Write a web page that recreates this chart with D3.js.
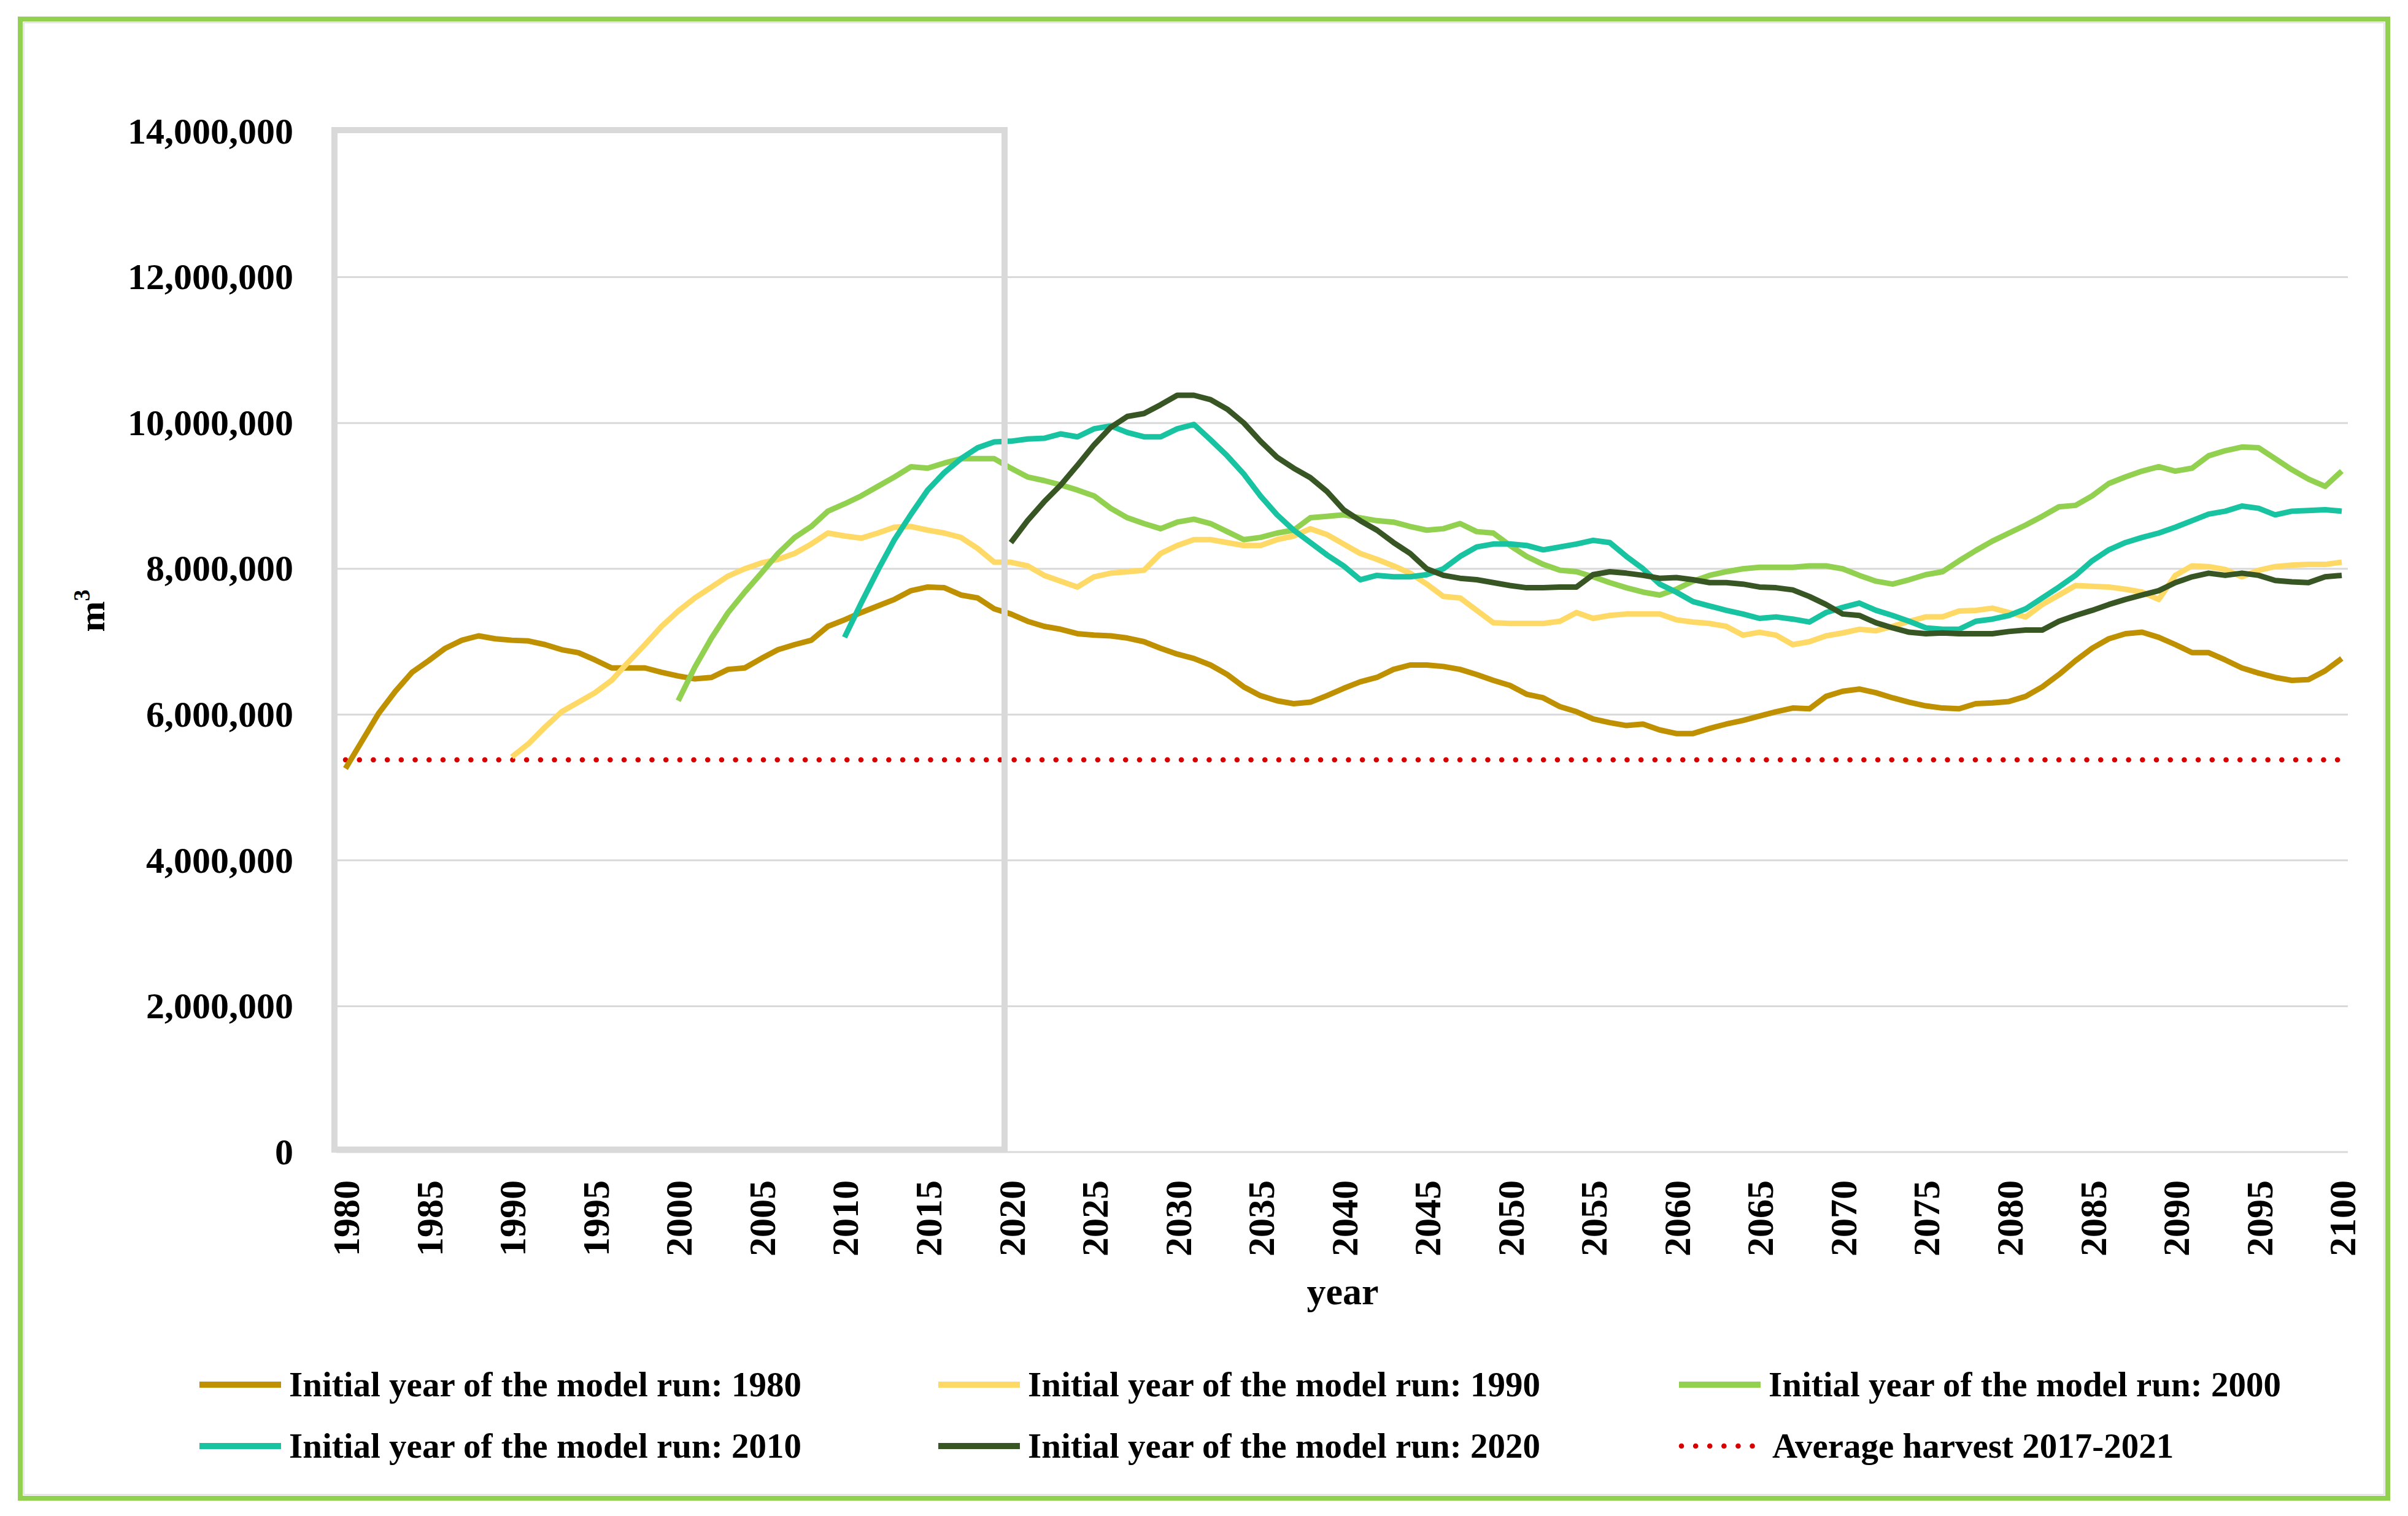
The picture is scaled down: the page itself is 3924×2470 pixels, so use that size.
<!DOCTYPE html>
<html>
<head>
<meta charset="utf-8">
<script src="https://cdn.jsdelivr.net/npm/d3@7"></script>
<style>
    body { margin: 0; background: #fff; }
    svg text { font-family: "Liberation Serif", "DejaVu Serif", serif; font-weight: bold; fill: #000; }
</style>
</head>
<body>
<svg id="chart" width="3924" height="2470"></svg>
<script>
// values in millions of m3, one per year starting at the run's initial year
var run1980 = [
    5.26, 5.64, 6.02, 6.32, 6.58, 6.74, 6.91, 7.02, 7.08, 7.04,
    7.02, 7.01, 6.96, 6.89, 6.85, 6.75, 6.64, 6.64, 6.64, 6.58,
    6.53, 6.49, 6.51, 6.62, 6.64, 6.77, 6.89, 6.96, 7.02, 7.21,
    7.30, 7.40, 7.49, 7.58, 7.70, 7.75, 7.74, 7.64, 7.60, 7.45,
    7.38, 7.28, 7.21, 7.17, 7.11, 7.09, 7.08, 7.05, 7.00, 6.91,
    6.83, 6.77, 6.68, 6.55, 6.38, 6.26, 6.19, 6.15, 6.17, 6.26,
    6.36, 6.45, 6.51, 6.62, 6.68, 6.68, 6.66, 6.62, 6.55, 6.47,
    6.40, 6.28, 6.23, 6.11, 6.04, 5.94, 5.89, 5.85, 5.87, 5.79,
    5.74, 5.74, 5.81, 5.87, 5.92, 5.98, 6.04, 6.09, 6.08, 6.25,
    6.32, 6.35, 6.30, 6.23, 6.17, 6.12, 6.09, 6.08, 6.15, 6.16,
    6.18, 6.25, 6.38, 6.55, 6.74, 6.91, 7.04, 7.11, 7.13, 7.06,
    6.96, 6.85, 6.85, 6.75, 6.64, 6.57, 6.51, 6.47, 6.48, 6.60,
    6.77
];
var run1990 = [
    5.42, 5.60, 5.83, 6.04, 6.17, 6.30, 6.47, 6.72, 6.96, 7.21,
    7.42, 7.60, 7.75, 7.90, 8.00, 8.08, 8.13, 8.21, 8.34, 8.49,
    8.45, 8.42, 8.49, 8.57, 8.58, 8.53, 8.49, 8.43, 8.28, 8.09,
    8.09, 8.04, 7.91, 7.83, 7.75, 7.89, 7.94, 7.96, 7.98, 8.21,
    8.32, 8.40, 8.40, 8.36, 8.32, 8.32, 8.40, 8.45, 8.55, 8.47,
    8.34, 8.21, 8.13, 8.04, 7.94, 7.79, 7.62, 7.60, 7.43, 7.26,
    7.25, 7.25, 7.25, 7.28, 7.40, 7.32, 7.36, 7.38, 7.38, 7.38,
    7.30, 7.27, 7.25, 7.21, 7.09, 7.13, 7.09, 6.96, 7.00, 7.08,
    7.12, 7.17, 7.15, 7.21, 7.28, 7.34, 7.34, 7.42, 7.43, 7.46,
    7.40, 7.34, 7.51, 7.64, 7.77, 7.76, 7.75, 7.72, 7.68, 7.58,
    7.91, 8.04, 8.03, 7.99, 7.89, 7.98, 8.03, 8.05, 8.06, 8.06,
    8.09
];
var run2000 = [
    6.19, 6.65, 7.05, 7.40, 7.68, 7.94, 8.21, 8.43, 8.58, 8.79,
    8.89, 9.00, 9.13, 9.26, 9.40, 9.38, 9.45, 9.51, 9.51, 9.51,
    9.38, 9.26, 9.21, 9.15, 9.08, 9.00, 8.83, 8.70, 8.62, 8.55,
    8.64, 8.68, 8.62, 8.51, 8.40, 8.43, 8.49, 8.53, 8.70, 8.72,
    8.74, 8.70, 8.66, 8.64, 8.58, 8.53, 8.55, 8.62, 8.51, 8.49,
    8.32, 8.17, 8.06, 7.98, 7.96, 7.89, 7.81, 7.74, 7.68, 7.64,
    7.72, 7.83, 7.91, 7.96, 8.00, 8.02, 8.02, 8.02, 8.04, 8.04,
    8.00, 7.91, 7.83, 7.79, 7.85, 7.92, 7.96, 8.11, 8.25, 8.38,
    8.49, 8.60, 8.72, 8.85, 8.87, 9.00, 9.17, 9.26, 9.34, 9.40,
    9.34, 9.38, 9.55, 9.62, 9.67, 9.66, 9.51, 9.36, 9.23, 9.13,
    9.34
];
var run2010 = [
    7.06, 7.53, 7.98, 8.40, 8.75, 9.08, 9.32, 9.51, 9.66, 9.74,
    9.75, 9.78, 9.79, 9.85, 9.81, 9.92, 9.96, 9.87, 9.81, 9.81,
    9.92, 9.98, 9.77, 9.55, 9.30, 9.00, 8.74, 8.53, 8.36, 8.19,
    8.04, 7.85, 7.91, 7.89, 7.89, 7.92, 8.00, 8.17, 8.30, 8.34,
    8.34, 8.32, 8.26, 8.30, 8.34, 8.39, 8.36, 8.17, 8.00, 7.79,
    7.68, 7.55, 7.49, 7.43, 7.38, 7.32, 7.34, 7.31, 7.27, 7.40,
    7.47, 7.53, 7.43, 7.36, 7.28, 7.19, 7.17, 7.17, 7.28, 7.31,
    7.36, 7.45, 7.60, 7.75, 7.91, 8.11, 8.26, 8.36, 8.43, 8.49,
    8.57, 8.66, 8.75, 8.79, 8.86, 8.83, 8.74, 8.79, 8.80, 8.81,
    8.79
];
var run2020 = [
    8.36, 8.66, 8.92, 9.15, 9.42, 9.70, 9.94, 10.09, 10.13, 10.25,
    10.38, 10.38, 10.32, 10.19, 10.00, 9.75, 9.53, 9.38, 9.25, 9.06,
    8.81, 8.66, 8.53, 8.36, 8.21, 8.00, 7.91, 7.87, 7.85, 7.81,
    7.77, 7.74, 7.74, 7.75, 7.75, 7.92, 7.96, 7.94, 7.91, 7.87,
    7.88, 7.85, 7.81, 7.81, 7.79, 7.75, 7.74, 7.71, 7.62, 7.51,
    7.38, 7.36, 7.26, 7.19, 7.13, 7.11, 7.12, 7.11, 7.11, 7.11,
    7.14, 7.16, 7.16, 7.28, 7.36, 7.43, 7.51, 7.58, 7.64, 7.70,
    7.81, 7.89, 7.94, 7.91, 7.94, 7.91, 7.84, 7.82, 7.81, 7.89,
    7.91
];
var averageHarvest = 5.38; // 2017-2021, millions of m3

var startYears = [1980, 1990, 2000, 2010, 2020];
var seriesValues = [run1980, run1990, run2000, run2010, run2020];
var seriesNames = [
    "Initial year of the model run: 1980",
    "Initial year of the model run: 1990",
    "Initial year of the model run: 2000",
    "Initial year of the model run: 2010",
    "Initial year of the model run: 2020"
];
var harvestName = "Average harvest 2017-2021";
var yearTicks = d3.range(1980, 2101, 5);
var valueTicks = d3.range(0, 15, 2);

var colors = ['#bf9000', '#ffd966', '#92d050', '#17c3a0', '#375623'],
    harvestColor = '#d90000',
    gridColor = '#d9d9d9';

var svg = d3.select('#chart');

// outer frame
svg.append('rect')
    .attr('x', 33).attr('y', 31)
    .attr('width', 3858).attr('height', 2410)
    .attr('fill', 'none')
    .attr('stroke', '#92d050')
    .attr('stroke-width', 8);
svg.append('rect')
    .attr('x', 39).attr('y', 37)
    .attr('width', 3846).attr('height', 2398)
    .attr('fill', 'none')
    .attr('stroke', '#e3e3e3')
    .attr('stroke-width', 2);

var x = d3.scaleLinear().domain([1980, 2100]).range([563, 3816]),
    y = d3.scaleLinear().domain([0, 14]).range([1877, 214]),
    plotLeft = 548,
    plotRight = 3826;

// gridlines
svg.append('g')
    .selectAll('line')
    .data(valueTicks.filter(function(v) { return v < 14; }))
    .enter().append('line')
    .attr('x1', plotLeft)
    .attr('x2', plotRight)
    .attr('y1', function(d) { return y(d); })
    .attr('y2', function(d) { return y(d); })
    .attr('stroke', gridColor)
    .attr('stroke-width', 3);

// y axis labels
var yAxis = svg.append('g')
    .attr('transform', 'translate(' + plotLeft + ',0)')
    .call(d3.axisLeft(y)
        .tickValues(valueTicks)
        .tickSize(0)
        .tickPadding(70)
        .tickFormat(function(d) { return d3.format(',')(d * 1e6); }));
yAxis.select('.domain').remove();
yAxis.selectAll('text')
    .attr('font-size', 60)
    .style('font-family', '"Liberation Serif", serif');

// x axis labels, rotated
var xAxis = svg.append('g')
    .attr('transform', 'translate(0,' + y(0) + ')')
    .call(d3.axisBottom(x)
        .tickValues(yearTicks)
        .tickSize(0)
        .tickFormat(d3.format('d')));
xAxis.select('.domain').remove();
xAxis.selectAll('text')
    .attr('transform', 'rotate(-90)')
    .attr('x', -46)
    .attr('y', 0)
    .attr('dy', '0.35em')
    .attr('text-anchor', 'end')
    .attr('font-size', 62)
    .style('font-family', '"Liberation Serif", serif');

// axis titles
svg.append('text')
    .attr('x', 2188)
    .attr('y', 2125)
    .attr('text-anchor', 'middle')
    .attr('font-size', 62)
    .text('year');

var yTitle = svg.append('text')
    .attr('transform', 'translate(170,995) rotate(-90)')
    .attr('text-anchor', 'middle')
    .attr('font-size', 60);
yTitle.append('tspan').text('m');
yTitle.append('tspan')
    .attr('font-size', 38)
    .attr('dy', -24)
    .text('3');

// average harvest
svg.append('line')
    .attr('x1', x(1980))
    .attr('x2', x(2100))
    .attr('y1', y(averageHarvest))
    .attr('y2', y(averageHarvest))
    .attr('stroke', harvestColor)
    .attr('stroke-width', 8.5)
    .attr('stroke-linecap', 'round')
    .attr('stroke-dasharray', '0.1 22.6');

// model runs
var line = d3.line()
    .x(function(d) { return x(d[0]); })
    .y(function(d) { return y(d[1]); });

svg.append('g')
    .selectAll('path')
    .data(seriesValues.map(function(vals, i) {
        return vals.map(function(v, j) { return [startYears[i] + j, v]; });
    }))
    .enter().append('path')
    .attr('d', line)
    .attr('fill', 'none')
    .attr('stroke', function(d, i) { return colors[i]; })
    .attr('stroke-width', 9)
    .attr('stroke-linejoin', 'round');

// highlight box 1980-2020
svg.append('rect')
    .attr('x', 545)
    .attr('y', 212)
    .attr('width', 1637 - 545)
    .attr('height', 1873 - 212)
    .attr('fill', 'none')
    .attr('stroke', gridColor)
    .attr('stroke-width', 10);

// legend
var legendItems = seriesNames.map(function(name, i) {
    return { name: name, color: colors[i], dotted: false };
});
legendItems.push({ name: harvestName, color: harvestColor, dotted: true });

var legendCols = [325, 1529, 2736],
    legendRows = [2256, 2356];

var legend = svg.append('g')
    .selectAll('g')
    .data(legendItems)
    .enter().append('g')
    .attr('transform', function(d, i) {
        return 'translate(' + legendCols[i % 3] + ',' + legendRows[Math.floor(i / 3)] + ')';
    });

legend.append('line')
    .attr('x1', function(d) { return d.dotted ? 4 : 0; })
    .attr('x2', function(d) { return d.dotted ? 124 : 133; })
    .attr('stroke', function(d) { return d.color; })
    .attr('stroke-width', function(d) { return d.dotted ? 8.5 : 10; })
    .attr('stroke-linecap', function(d) { return d.dotted ? 'round' : 'butt'; })
    .attr('stroke-dasharray', function(d) { return d.dotted ? '0.1 23' : null; });

legend.append('text')
    .attr('x', function(d) { return d.dotted ? 152 : 146; })
    .attr('dy', '0.33em')
    .attr('font-size', 57)
    .text(function(d) { return d.name; });
</script>
</body>
</html>
